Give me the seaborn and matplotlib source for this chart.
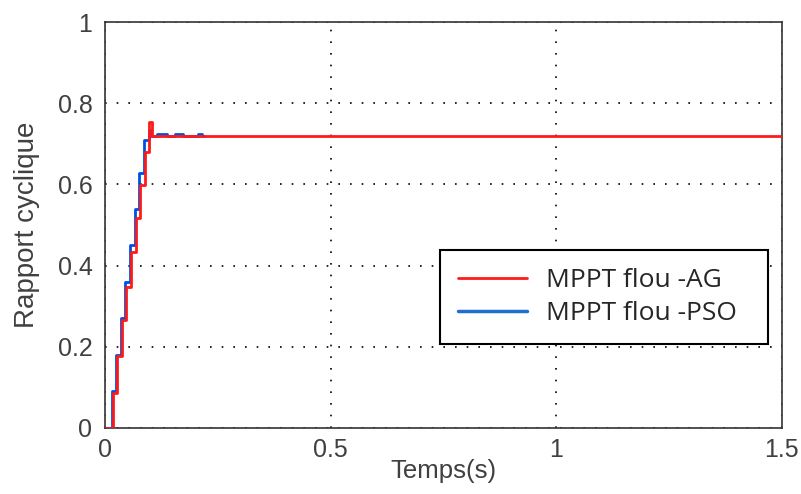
import pandas as pd
import numpy as np
import matplotlib.pyplot as plt
import seaborn as sns
from matplotlib.lines import Line2D

# rapport cyclique, MPPT flou optimise par AG
t_ag = [0, 0.018, 0.027, 0.037, 0.046, 0.057, 0.068, 0.077, 0.089, 0.098, 0.105, 1.5]
d_ag = [0, 0.086, 0.177, 0.266, 0.346, 0.434, 0.517, 0.598, 0.680, 0.754, 0.719, 0.719]

# rapport cyclique, MPPT flou optimise par PSO
t_pso = [0, 0.016, 0.025, 0.035, 0.045, 0.055, 0.066, 0.075, 0.087, 0.097, 0.103,
         0.115, 0.137, 0.155, 0.173, 0.206, 0.215, 0.22]
d_pso = [0, 0.090, 0.180, 0.270, 0.360, 0.450, 0.540, 0.628, 0.709, 0.734, 0.719,
         0.725, 0.719, 0.725, 0.719, 0.725, 0.719, 0.719]

x_ticks = [0, 0.5, 1, 1.5]
y_ticks = [0, 0.2, 0.4, 0.6, 0.8, 1]
x_labels = ["0", "0.5", "1", "1.5"]
y_labels = ["0", "0.2", "0.4", "0.6", "0.8", "1"]

df_ag = pd.DataFrame({"t": t_ag, "d": d_ag})
df_pso = pd.DataFrame({"t": t_pso, "d": d_pso})

sns.set_style("white")
plt.rcParams["font.family"] = ["Liberation Sans", "DejaVu Sans"]

fig = plt.figure(figsize=(8.01, 4.94), dpi=100)
ax = fig.add_axes([0.131, 0.134, 0.845, 0.821])

sns.lineplot(data=df_pso, x="t", y="d", ax=ax, color="#0050e0", linewidth=2,
             drawstyle="steps-post", sort=False, estimator=None, zorder=2)
sns.lineplot(data=df_ag, x="t", y="d", ax=ax, color="#ff1a1a", linewidth=2,
             drawstyle="steps-post", sort=False, estimator=None, zorder=3)

ax.set_xlim(0, 1.5)
ax.set_ylim(0, 1)
ax.set_xticks(x_ticks)
ax.set_xticklabels(x_labels)
ax.set_yticks(y_ticks)
ax.set_yticklabels(y_labels)
ax.tick_params(direction="in", length=5, width=1, colors="#333333",
               labelsize=18, labelcolor="#404040", pad=7)
ax.tick_params(axis="y", pad=9)
ax.grid(True, color="black", linestyle=(0, (1, 6)), linewidth=1.2)
for s in ax.spines.values():
    s.set_color("#333333")
    s.set_linewidth(1.2)

ax.set_xlabel("Temps(s)", fontsize=18.5, color="#404040", labelpad=-2)
ax.set_ylabel("Rapport cyclique", fontsize=20, color="#404040", labelpad=13)

# legende en cadre noir, lignes pleines
handles = [Line2D([], [], color="#ff1a1a", linewidth=2),
           Line2D([], [], color="#1f6fd0", linewidth=2.5)]
leg = ax.legend(handles, ["MPPT flou -AG", "MPPT flou -PSO"],
                loc="upper left", bbox_to_anchor=(0.495, 0.197, 0.484, 0.438 - 0.197),
                mode="expand", frameon=True, fancybox=False, framealpha=1,
                handlelength=2.6, handletextpad=0.75, borderpad=0.68,
                labelspacing=0.3, borderaxespad=0,
                prop={"family": ["Open Sans", "DejaVu Sans"], "size": 19})
leg.get_frame().set_edgecolor("black")
leg.get_frame().set_linewidth(1.5)

fig.savefig("out.png", dpi=100)
